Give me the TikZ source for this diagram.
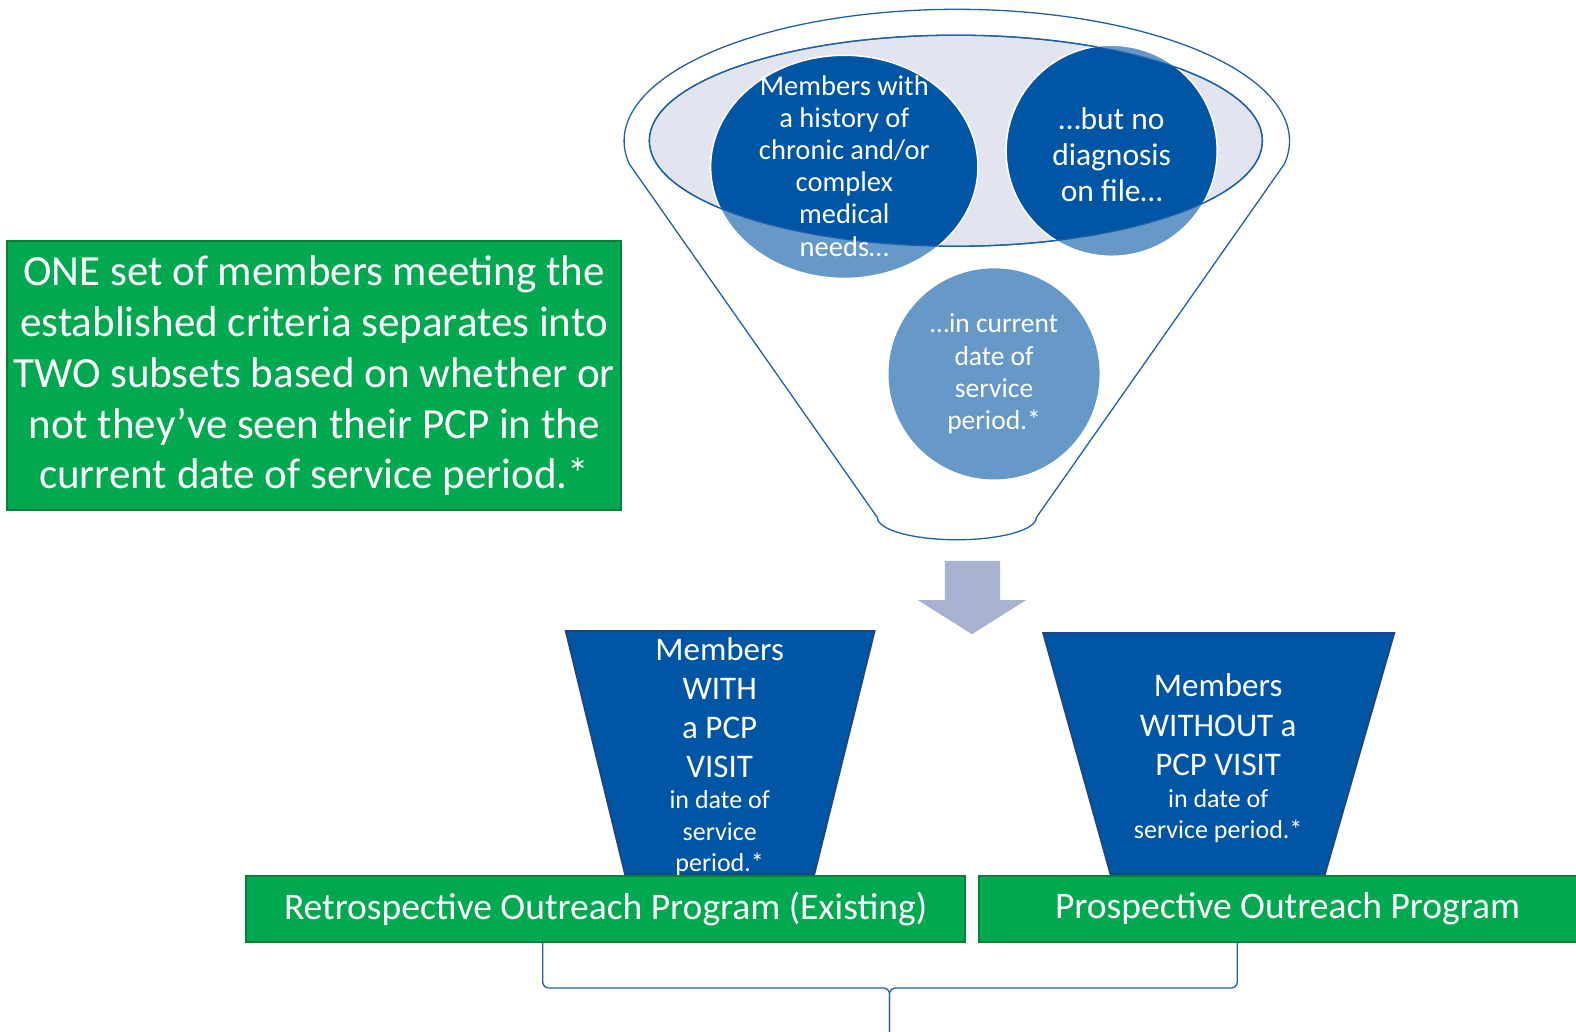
\documentclass[tikz,border=0pt]{standalone}
\usepackage{fontspec}
\setmainfont{Carlito}
\usepackage{tikz}
\usetikzlibrary{shapes.geometric}
\definecolor{navy}{RGB}{0,85,164}
\definecolor{paleblue}{RGB}{102,153,200}
\definecolor{rimblue}{RGB}{32,96,168}
\definecolor{mist}{RGB}{226,229,240}
\definecolor{arrowgrey}{RGB}{169,179,209}
\definecolor{leafgreen}{RGB}{0,168,80}
\definecolor{darkleaf}{RGB}{0,128,58}
\definecolor{trapedge}{RGB}{28,72,130}
\tikzstyle{rim} = [draw=rimblue, line width=1.3pt]
\tikzstyle{greenbox} = [rectangle,
fill=leafgreen,
draw=darkleaf,
line width=2pt,
text=white,
align=center,
inner sep=0pt]
\tikzstyle{subset} = [fill=navy, draw=trapedge, line width=2pt]
\tikzstyle{whitetext} = [text=white, align=center, inner sep=0pt]

\begin{document}
\begin{tikzpicture}[x=1.0051pt, y=1.0051pt]
				\useasboundingbox (0,0) rectangle (1568,-1025.8);

				\node[greenbox, minimum width=614pt, minimum height=269pt, font=\fontsize{43}{50.8}\selectfont] (criteria) at (312.5,-374) {ONE set of members meeting the\\established criteria separates into\\TWO subsets based on whether or\\not they’ve seen their PCP in the\\current date of service period.*};

				% funnel
				\draw[rim] (873,-515) -- (626,-163) arc[start angle=190, end angle=-10, x radius=331, y radius=131] -- (1031,-515) arc[start angle=0, end angle=-180, x radius=79, y radius=22] -- cycle;
				\filldraw[rim, fill=mist] (951,-140) ellipse [x radius=305, y radius=105];
				\fill[paleblue] (840,-166) ellipse [x radius=133, y radius=111];
				\fill[paleblue] (1106,-150) circle (105);
				\fill[paleblue] (989,-372) circle (105);
				\begin{scope}
					\clip (951,-140) ellipse [x radius=305, y radius=105];
					\fill[navy] (840,-166) ellipse [x radius=133, y radius=111];
					\fill[navy] (1106,-150) circle (105);
				\end{scope}
				\draw[white, line width=1.5pt] (840,-166) ellipse [x radius=133, y radius=111];
				\draw[white, line width=1.5pt] (1106,-150) circle (105);
				\draw[rimblue, line width=1.3pt] (951,-140) ellipse [x radius=305, y radius=105];

				\node[whitetext, font=\fontsize{28.5}{32.2}\selectfont] (history) at (840,-165) {Members with\\a history of\\chronic and/or\\complex\\medical\\needs…};
				\node[whitetext, font=\fontsize{31.5}{36.2}\selectfont] (nodiag) at (1106,-154) {…but no\\diagnosis\\on file…};
				\node[whitetext, font=\fontsize{27.5}{32.2}\selectfont] (period) at (989,-372) {…in current\\date of\\service\\period.*};

				% split arrow
				\fill[arrowgrey] (940,-558) -- (995,-558) -- (995,-597) -- (1021,-597) -- (967,-631) -- (913,-597) -- (940,-597) -- cycle;

				\filldraw[subset] (563,-628) -- (870,-628) -- (810,-870) -- (622,-870) -- cycle;
				\filldraw[subset] (1038,-630) -- (1387,-630) -- (1318,-870) -- (1105,-870) -- cycle;

				\node[whitetext, font=\fontsize{33}{39.2}\selectfont] (with) at (716,-704) {Members\\WITH\\a PCP\\VISIT};
				\node[whitetext, font=\fontsize{26}{31.2}\selectfont] (withdos) at (716,-829) {in date of\\service\\period.*};
				\node[whitetext, font=\fontsize{33}{39.2}\selectfont] (without) at (1212,-721) {Members\\WITHOUT a\\PCP VISIT};
				\node[whitetext, font=\fontsize{26}{31.2}\selectfont] (withoutdos) at (1212,-812) {in date of\\service period.*};

				\node[greenbox, minimum width=719pt, minimum height=65.3pt, font=\fontsize{37.5}{42}\selectfont] (retro) at (602.5,-904.5) {Retrospective Outreach Program (Existing)};
				\node[greenbox, minimum width=617pt, minimum height=65.3pt, font=\fontsize{37.5}{42}\selectfont] (pros) at (1281,-904.5) {Prospective Outreach Program};

				\coordinate (knot) at (885,-983);
				\coordinate (tip) at (885,-1031);
				\draw[rim, rounded corners=6pt] ([xshift=-62.8pt]retro.south) |- (knot) -- (tip);
				\draw[rim, rounded corners=6pt] ([xshift=-50.3pt]pros.south) |- (knot) -- (tip);
			\end{tikzpicture}
\end{document}
